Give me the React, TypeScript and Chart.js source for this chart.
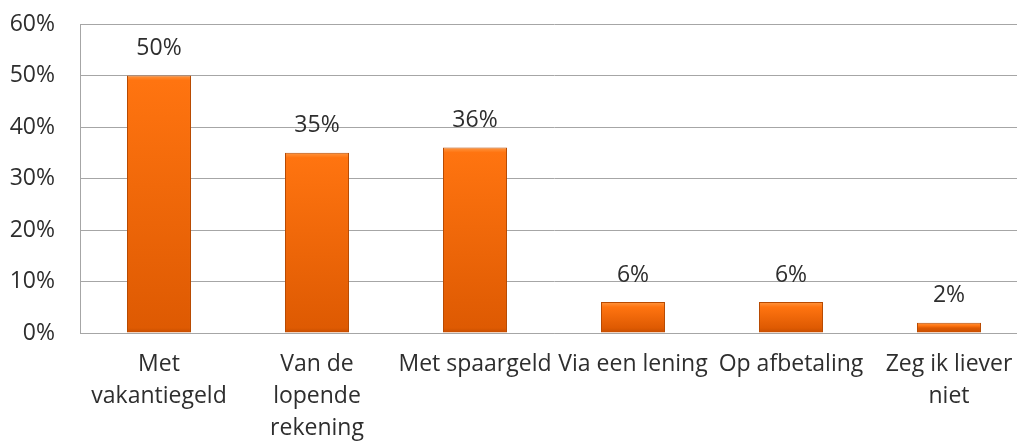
import React, { useEffect, useRef } from "react";
import { Chart, registerables } from "chart.js";

Chart.register(...registerables);

const categories: (string | string[])[] = [
  ["Met", "vakantiegeld"],
  ["Van de", "lopende", "rekening"],
  "Met spaargeld",
  "Via een lening",
  "Op afbetaling",
  ["Zeg ik liever", "niet"],
];
const values: number[] = [50, 35, 36, 6, 6, 2];
const yTicks: number[] = [0, 10, 20, 30, 40, 50, 60];

const FONT = "'Open Sans', sans-serif";
const FS = 23;
const TEXT = "#2e2e2e";
const GRID = "#a6a6a6";

const labelPlugin = {
  id: "barLabels",
  afterDatasetsDraw(chart: any) {
    const ctx = chart.ctx;
    const meta = chart.getDatasetMeta(0);
    ctx.save();
    ctx.font = `${FS}px ${FONT}`;
    ctx.fillStyle = TEXT;
    ctx.textAlign = "center";
    ctx.textBaseline = "middle";
    meta.data.forEach((el: any, i: number) => {
      ctx.fillText(values[i] + "%", el.x, el.y - 27);
    });
    ctx.restore();
  },
};

export default function App() {
  const ref = useRef<HTMLCanvasElement | null>(null);
  useEffect(() => {
    if (!ref.current) return;
    const chart = new Chart(ref.current, {
      type: "bar",
      data: {
        labels: categories,
        datasets: [
          {
            data: values,
            backgroundColor: (c: any) => {
              const chart = c.chart;
              const ys = chart.scales?.y;
              if (!ys || c.dataIndex === undefined) return "#f26a06";
              const v = values[c.dataIndex];
              const top = ys.getPixelForValue(v);
              const bot = ys.getPixelForValue(0);
              if (!isFinite(top) || !isFinite(bot) || bot - top < 1) return "#f26a06";
              const h = bot - top;
              const g = chart.ctx.createLinearGradient(0, top, 0, bot);
              g.addColorStop(0, "#ff9640");
              g.addColorStop(Math.min(0.3, 5 / h), "#ff7410");
              g.addColorStop(Math.max(0.31, 1 - 5 / h), "#de5a02");
              g.addColorStop(1, "#c44c00");
              return g;
            },
            borderColor: "#b84a00",
            borderWidth: 1,
            barPercentage: 0.405,
            categoryPercentage: 1,
          },
        ],
      },
      options: {
        animation: false,
        responsive: false,
        maintainAspectRatio: false,
        layout: { padding: { top: 0, right: 12, left: 0, bottom: 0 } },
        plugins: { legend: { display: false }, tooltip: { enabled: false } },
        scales: {
          x: {
            grid: { display: false, drawTicks: false },
            border: { display: true, color: GRID, width: 1 },
            ticks: {
              autoSkip: false,
              maxRotation: 0,
              minRotation: 0,
              padding: 15,
              color: TEXT,
              font: { family: FONT, size: FS, lineHeight: 32 / FS },
            },
            afterFit: (s: any) => {
              s.height = 110;
            },
          },
          y: {
            min: 0,
            max: 60,
            afterBuildTicks: (s: any) => {
              s.ticks = yTicks.map((v) => ({ value: v }));
            },
            grid: { color: GRID, drawTicks: false, lineWidth: 1 },
            border: { display: true, color: GRID, width: 1 },
            ticks: {
              padding: 25,
              color: TEXT,
              font: { family: FONT, size: FS },
              callback: (v: any) => v + "%",
            },
            afterFit: (s: any) => {
              s.width = 80;
              s.paddingTop = 24;
              s.paddingBottom = 0;
            },
          },
        },
      },
      plugins: [labelPlugin],
    });
    return () => chart.destroy();
  }, []);
  return (
    <div
      style={{
        position: "fixed",
        left: 0,
        top: 0,
        width: 1017,
        height: 443,
        overflow: "hidden",
        background: "#fff",
      }}
    >
      <canvas ref={ref} width={1040} height={443} style={{ width: 1040, height: 443 }} />
    </div>
  );
}
